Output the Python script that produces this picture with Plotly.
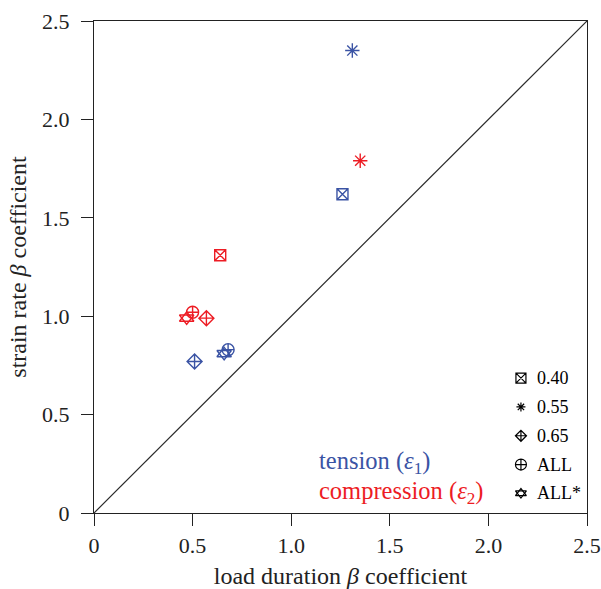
import plotly.graph_objects as go

# ---- data ----
groups = ["0.40", "0.55", "0.65", "ALL", "ALL*"]
tension_x = [1.26, 1.31, 0.51, 0.68, 0.66]
tension_y = [1.62, 2.35, 0.77, 0.83, 0.81]
compression_x = [0.64, 1.35, 0.57, 0.50, 0.47]
compression_y = [1.31, 1.79, 0.99, 1.02, 0.99]
ticks = [0, 0.5, 1.0, 1.5, 2.0, 2.5]
tick_labels = ["0", "0.5", "1.0", "1.5", "2.0", "2.5"]

# ---- styles ----
BLUE = "#3a53a4"
RED = "#ed1c24"
INK = "#222222"
FONT = "Liberation Serif"
# each group symbol can be made of one or more plotly symbols overlaid
symbol_parts = [["square-x-open"], ["asterisk-open"], ["diamond-cross-open"],
                ["circle-cross-open"], ["triangle-up-open", "triangle-down-open"]]
data_sizes = [11, 12, 11.5, 12, 12.5]
legend_sizes = [10, 7.5, 8.5, 11, 9.5]

fig = go.Figure()
fig.add_trace(go.Scatter(x=[0, 2.5], y=[0, 2.5], mode="lines",
                         line=dict(color="#2a2a2a", width=1.2), showlegend=False, hoverinfo="skip"))


def add_marker(x, y, parts, size, color, xaxis="x", yaxis="y", lw=1.4):
    for sym in parts:
        fig.add_trace(go.Scatter(x=x, y=y, mode="markers", xaxis=xaxis, yaxis=yaxis,
                                 marker=dict(symbol=sym, size=size, color=color,
                                             line=dict(width=lw, color=color)),
                                 showlegend=False, cliponaxis=False))


for i, g in enumerate(groups):
    add_marker([tension_x[i]], [tension_y[i]], symbol_parts[i], data_sizes[i], BLUE)
    add_marker([compression_x[i]], [compression_y[i]], symbol_parts[i], data_sizes[i], RED)

# ---- manual legend on an overlaid unit axis ----
LEG_X, LEG_TEXT_X, LEG_Y0, LEG_STEP = 0.866, 0.895, 0.274, 0.0585
for i, g in enumerate(groups):
    ly = LEG_Y0 - i * LEG_STEP
    add_marker([LEG_X], [ly], symbol_parts[i], legend_sizes[i], "black", "x2", "y2", lw=1.2)
    fig.add_annotation(x=LEG_TEXT_X, y=ly, xref="x2", yref="y2", xanchor="left", yanchor="middle",
                       text=g, showarrow=False, font=dict(family=FONT, size=18, color="black"))

fig.add_annotation(x=0.452, y=0.102, xref="paper", yref="paper", xanchor="left", yanchor="middle",
                   text="tension (<i>ε</i><sub>1</sub>)", showarrow=False,
                   font=dict(family=FONT, size=24.5, color=BLUE))
fig.add_annotation(x=0.452, y=0.042, xref="paper", yref="paper", xanchor="left", yanchor="middle",
                   text="compression (<i>ε</i><sub>2</sub>)", showarrow=False,
                   font=dict(family=FONT, size=24.5, color=RED))

axis_common = dict(range=[0, 2.5], tickvals=ticks, ticktext=tick_labels, showgrid=False,
                   zeroline=False, showline=True, linecolor=INK, linewidth=1.3, mirror=True,
                   ticks="outside", ticklen=12, tickwidth=1.3, tickcolor=INK, automargin=False,
                   tickfont=dict(family=FONT, size=22, color=INK))
fig.update_xaxes(**axis_common, title=dict(text="load duration <i>β</i> coefficient",
                                           font=dict(family=FONT, size=24, color=INK), standoff=11))
fig.update_yaxes(**axis_common, ticklabelstandoff=7,
                 title=dict(text="strain rate <i>β</i> coefficient",
                            font=dict(family=FONT, size=24, color=INK), standoff=8))
fig.update_layout(
    xaxis2=dict(range=[0, 1], overlaying="x", visible=False),
    yaxis2=dict(range=[0, 1], overlaying="y", visible=False),
    width=601, height=589, margin=dict(l=94, r=14, t=21, b=76),
    plot_bgcolor="white", paper_bgcolor="white", showlegend=False,
    font=dict(family=FONT, color=INK))
fig.write_html("out.html", config={"displayModeBar": False},
               post_script="document.body.style.margin='0';document.body.style.overflow='hidden';")
